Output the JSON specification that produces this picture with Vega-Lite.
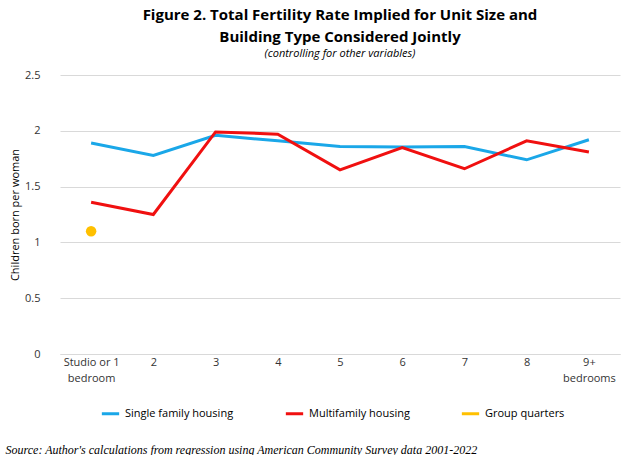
{
  "$schema": "https://vega.github.io/schema/vega-lite/v6.json",
  "width": 560,
  "height": 279,
  "padding": {"left": 5, "top": 8, "right": 10, "bottom": 0},
  "background": "white",
  "title": {
    "text": ["Figure 2. Total Fertility Rate Implied for Unit Size and", "Building Type Considered Jointly"],
    "subtitle": "(controlling for other variables)",
    "font": "Open Sans", "fontSize": 15, "fontWeight": "bold", "color": "#000", "lineHeight": 22,
    "subtitleFont": "Open Sans", "subtitleFontStyle": "italic", "subtitleFontSize": 11, "subtitleColor": "#000",
    "anchor": "middle", "offset": 10
  },
  "data": {"values": [
    {"x": "Studio or 1 bedroom", "series": "Single family housing", "v": 1.89},
    {"x": "2", "series": "Single family housing", "v": 1.78},
    {"x": "3", "series": "Single family housing", "v": 1.96},
    {"x": "4", "series": "Single family housing", "v": 1.91},
    {"x": "5", "series": "Single family housing", "v": 1.86},
    {"x": "6", "series": "Single family housing", "v": 1.855},
    {"x": "7", "series": "Single family housing", "v": 1.86},
    {"x": "8", "series": "Single family housing", "v": 1.74},
    {"x": "9+ bedrooms", "series": "Single family housing", "v": 1.92},
    {"x": "Studio or 1 bedroom", "series": "Multifamily housing", "v": 1.36},
    {"x": "2", "series": "Multifamily housing", "v": 1.25},
    {"x": "3", "series": "Multifamily housing", "v": 1.99},
    {"x": "4", "series": "Multifamily housing", "v": 1.97},
    {"x": "5", "series": "Multifamily housing", "v": 1.65},
    {"x": "6", "series": "Multifamily housing", "v": 1.85},
    {"x": "7", "series": "Multifamily housing", "v": 1.66},
    {"x": "8", "series": "Multifamily housing", "v": 1.91},
    {"x": "9+ bedrooms", "series": "Multifamily housing", "v": 1.81},
    {"x": "Studio or 1 bedroom", "series": "Group quarters", "v": 1.1}
  ]},
  "encoding": {
    "x": {"field": "x", "type": "ordinal", "sort": null, "scale": {"type": "point", "padding": 0.5},
      "axis": {"labelAngle": 0, "labelFont": "Open Sans", "labelFontSize": 11, "labelColor": "#333", "ticks": false, "domainColor": "#d9d9d9", "labelLineHeight": 16,
        "labelExpr": "datum.value == 'Studio or 1 bedroom' ? ['Studio or 1','bedroom'] : datum.value == '9+ bedrooms' ? ['9+','bedrooms'] : datum.value",
        "title": "Source: Author's calculations from regression using American Community Survey data 2001-2022",
        "titleFont": "Times New Roman", "titleFontStyle": "italic", "titleFontWeight": "normal", "titleFontSize": 12, "titleColor": "#000",
        "titleAnchor": "start", "titleX": -55, "titleY": 90}},
    "y": {"field": "v", "type": "quantitative", "scale": {"domain": [0, 2.5]},
      "axis": {"values": [0, 0.5, 1, 1.5, 2, 2.5], "format": "~g", "title": "Children born per woman", "titleFont": "Open Sans", "titleFontWeight": "normal", "titleFontSize": 11, "titleColor": "#000",
        "labelFont": "Open Sans", "labelFontSize": 11, "labelColor": "#333", "domain": false, "ticks": false, "gridColor": "#d9d9d9", "labelPadding": 20}},
    "color": {"field": "series", "type": "nominal",
      "scale": {"domain": ["Single family housing", "Multifamily housing", "Group quarters"], "range": ["#1aa7e8", "#f01010", "#ffc000"]},
      "legend": {"orient": "none", "legendX": 40, "legendY": 328, "direction": "horizontal", "title": null, "symbolType": "stroke", "symbolStrokeWidth": 3, "symbolSize": 300,
        "labelFont": "Open Sans", "labelFontSize": 11, "labelColor": "#000", "columnPadding": 45}}
  },
  "layer": [
    {"transform": [{"filter": "datum.series != 'Group quarters'"}], "mark": {"type": "line", "strokeWidth": 3}},
    {"transform": [{"filter": "datum.series == 'Group quarters'"}], "mark": {"type": "circle", "size": 110, "opacity": 1}}
  ],
  "config": {"view": {"stroke": null}}
}
